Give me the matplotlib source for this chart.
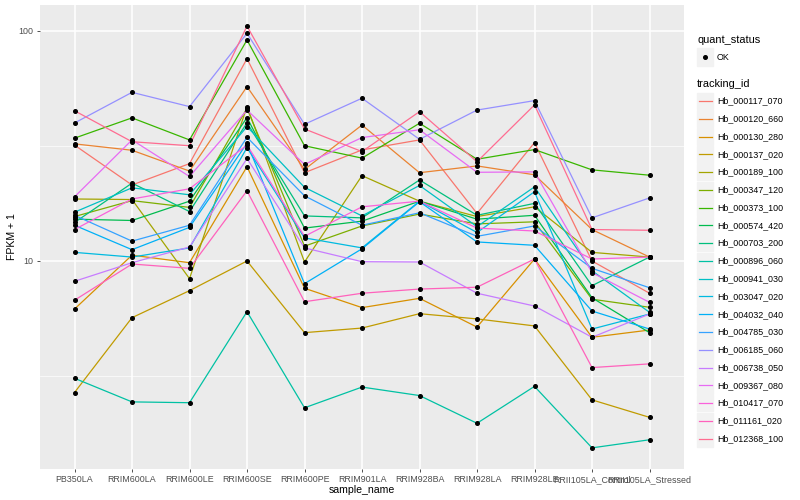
import numpy as np
import matplotlib
matplotlib.use("Agg")
import matplotlib.pyplot as plt
from matplotlib.ticker import FixedLocator, NullFormatter
from matplotlib.patches import Rectangle
from matplotlib.lines import Line2D

plt.rcParams['font.family'] = ['Liberation Sans', 'DejaVu Sans']

# samples on the x axis
sample_name = ['PB350LA', 'RRIM600LA', 'RRIM600LE', 'RRIM600SE', 'RRIM600PE',
               'RRIM901LA', 'RRIM928BA', 'RRIM928LA', 'RRIM928LE',
               'RRII105LA_Control', 'RRII105LA_Stressed']

# FPKM + 1 per gene
hb_000117_070 = [31.9, 21.4, 26.5, 75.8, 24.2, 30.4, 33.6, 16.1, 32.7, 10.0, 7.24]
hb_000120_660 = [32.3, 30.3, 24.6, 57.3, 25.0, 39.0, 24.2, 25.9, 23.7, 13.7, 10.4]
hb_000130_280 = [6.18, 10.6, 9.83, 25.7, 7.61, 6.27, 6.88, 5.16, 10.2, 4.66, 5.01]
hb_000137_020 = [2.68, 5.67, 7.43, 10.0, 4.88, 5.11, 5.90, 5.60, 5.22, 2.49, 2.09]
hb_000189_100 = [18.6, 18.5, 8.38, 46.9, 9.90, 23.5, 18.2, 15.6, 17.2, 10.9, 10.4]
hb_000347_120 = [15.6, 18.3, 17.1, 46.1, 11.6, 14.2, 16.0, 14.5, 14.8, 6.82, 6.29]
hb_000373_100 = [34.2, 41.9, 33.6, 91.4, 31.7, 28.0, 39.7, 27.7, 30.5, 24.9, 23.6]
hb_000574_420 = [15.2, 15.0, 18.2, 42.0, 13.9, 14.9, 18.2, 15.2, 15.8, 6.92, 4.88]
hb_000703_200 = [14.7, 21.8, 16.4, 39.9, 15.7, 15.4, 22.5, 15.8, 17.8, 7.81, 10.4]
hb_000896_060 = [3.09, 2.44, 2.42, 6.02, 2.30, 2.83, 2.60, 1.97, 2.85, 1.54, 1.67]
hb_000941_030 = [16.3, 20.8, 19.4, 38.4, 20.9, 15.7, 21.3, 14.1, 21.0, 9.07, 5.98]
hb_003047_020 = [10.9, 10.4, 11.4, 31.1, 12.6, 11.4, 18.2, 13.3, 20.0, 5.06, 5.88]
hb_004032_040 = [14.3, 11.2, 14.0, 32.5, 7.97, 11.3, 18.1, 12.1, 11.7, 6.06, 5.06]
hb_004785_030 = [15.8, 12.2, 14.3, 34.5, 19.2, 14.3, 16.2, 12.8, 14.2, 9.29, 7.65]
hb_006185_060 = [39.8, 54.1, 46.9, 97.7, 39.3, 51.0, 33.8, 45.3, 49.8, 15.4, 18.8]
hb_006738_050 = [8.16, 9.83, 11.5, 27.9, 11.4, 9.93, 9.90, 7.24, 6.37, 4.66, 5.88]
hb_009367_080 = [19.0, 33.6, 23.3, 45.3, 26.3, 34.4, 37.2, 24.3, 24.4, 8.90, 6.61]
hb_010417_070 = [13.7, 18.6, 20.6, 31.9, 12.8, 17.2, 18.2, 13.9, 13.5, 10.2, 10.4]
hb_011161_020 = [6.75, 9.70, 9.29, 20.2, 6.65, 7.24, 7.55, 7.69, 10.2, 3.44, 3.57]
hb_012368_100 = [45.0, 33.0, 31.7, 105.0, 37.5, 29.9, 44.6, 27.0, 47.7, 13.7, 13.6]

tracking_id = ['Hb_000117_070', 'Hb_000120_660', 'Hb_000130_280', 'Hb_000137_020',
               'Hb_000189_100', 'Hb_000347_120', 'Hb_000373_100', 'Hb_000574_420',
               'Hb_000703_200', 'Hb_000896_060', 'Hb_000941_030', 'Hb_003047_020',
               'Hb_004032_040', 'Hb_004785_030', 'Hb_006185_060', 'Hb_006738_050',
               'Hb_009367_080', 'Hb_010417_070', 'Hb_011161_020', 'Hb_012368_100']
series = [hb_000117_070, hb_000120_660, hb_000130_280, hb_000137_020, hb_000189_100,
          hb_000347_120, hb_000373_100, hb_000574_420, hb_000703_200, hb_000896_060,
          hb_000941_030, hb_003047_020, hb_004032_040, hb_004785_030, hb_006185_060,
          hb_006738_050, hb_009367_080, hb_010417_070, hb_011161_020, hb_012368_100]

# ggplot default hue palette for 20 levels
colors = ['#F8766D', '#EA8331', '#D89000', '#C09B00', '#A3A500', '#7CAE00', '#39B600',
          '#00BB4E', '#00BF7D', '#00C1A3', '#00BFC4', '#00BAE0', '#00B0F6', '#35A2FF',
          '#9590FF', '#C77CFF', '#E76BF3', '#FA62DB', '#FF62BC', '#FF6C91']

W, H = 800, 500
fig = plt.figure(figsize=(8, 5), dpi=100)
ax = fig.add_axes([40 / W, 1 - 468.7 / H, (684 - 40) / W, (468.7 - 5) / H])
ax.set_facecolor('#EBEBEB')

x = np.arange(len(sample_name))
for vals, col in zip(series, colors):
    ax.plot(x, vals, color=col, lw=0.9, zorder=2)
for vals in series:
    ax.plot(x, vals, 'o', color='black', ms=2.6, zorder=3)

ax.set_yscale('log')
ax.set_ylim(1.25, 129.7)
ax.set_xlim(-0.6, 10.6)
ax.set_yticks([10, 100])
ax.set_yticklabels(['10', '100'])
ax.yaxis.set_minor_locator(FixedLocator([10 ** 0.5, 10 ** 1.5]))
ax.yaxis.set_minor_formatter(NullFormatter())
ax.set_xticks(x)
ax.set_xticklabels(sample_name)
ax.grid(which='major', color='white', lw=1.1)
ax.grid(which='minor', axis='y', color='white', lw=0.5)
ax.set_axisbelow(True)
for s in ax.spines.values():
    s.set_visible(False)
ax.tick_params(which='major', length=2.5, width=0.6, color='#333333',
               labelcolor='#4D4D4D', labelsize=6.4, pad=2)
ax.tick_params(which='minor', length=0)
ax.set_xlabel('sample_name', fontsize=7.6, labelpad=1)
ax.set_ylabel('FPKM + 1', fontsize=7.6, labelpad=0)
ax.yaxis.set_label_coords(-(40 - 17) / 644, 0.5)

# legend drawn by hand, in pixel positions
def fx(px):
    return px / W

def fy(py):
    return 1 - py / H

fig.text(fx(697), fy(40), 'quant_status', fontsize=7.9, va='center', ha='left')
fig.add_artist(Rectangle((fx(697), fy(65.5)), 16 / W, 17 / H, color='#F2F2F2',
                         transform=fig.transFigure))
fig.add_artist(Line2D([fx(705)], [fy(57)], marker='o', ms=2.6, color='black',
                      transform=fig.transFigure))
fig.text(fx(717), fy(57), 'OK', fontsize=6.4, va='center', ha='left')

fig.text(fx(697), fy(84), 'tracking_id', fontsize=7.9, va='center', ha='left')
for i, (name, col) in enumerate(zip(tracking_id, colors)):
    yc = 101 + 17.77 * i
    fig.add_artist(Rectangle((fx(697), fy(yc + 8.3)), 16 / W, 16.6 / H, color='#F2F2F2',
                             transform=fig.transFigure))
    fig.add_artist(Line2D([fx(698.5), fx(711.5)], [fy(yc), fy(yc)], color=col, lw=0.9,
                          transform=fig.transFigure))
    fig.text(fx(717), fy(yc), name, fontsize=6.4, va='center', ha='left')

fig.savefig('out.png', dpi=100)
